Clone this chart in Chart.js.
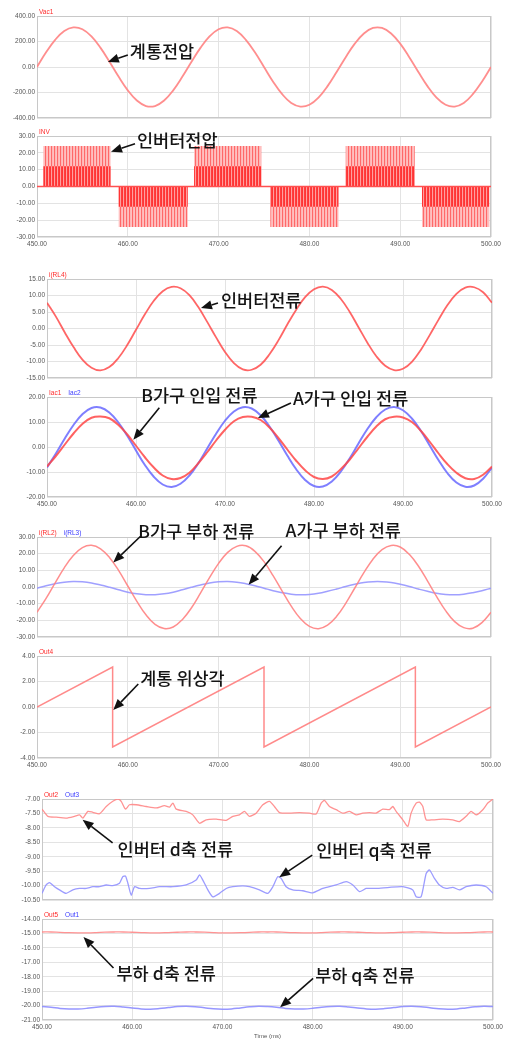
<!DOCTYPE html>
<html>
<head>
<meta charset="utf-8">
<script src="https://cdn.jsdelivr.net/npm/chart.js@4/dist/chart.umd.min.js"></script>
<style>
  html, body { margin: 0; padding: 0; background: #fff; }
  #page { position: relative; width: 507px; height: 1040px; overflow: hidden; }
  .panel { position: absolute; left: 0; width: 507px; }
</style>
</head>
<body>
<div id="page"></div>
<script>
// ---- sample times (ms) for the 1 ms traces ----
const timeMs = [450,451,452,453,454,455,456,457,458,459,460,461,462,463,464,465,466,467,468,469,470,
  471,472,473,474,475,476,477,478,479,480,481,482,483,484,485,486,487,488,489,490,
  491,492,493,494,495,496,497,498,499,500];

// grid voltage Vac1 [V]
const vac1 = [0,115,213,282,310,296,240,150,39,-77,-183,-263,-306,-306,-263,-183,-77,39,150,240,296,310,282,213,115,0,
  -115,-213,-282,-310,-296,-240,-150,-39,77,183,263,306,306,263,183,77,-39,-150,-240,-296,-310,-282,-213,-115,0];

// inverter output voltage INV: switching blocks [ms] and levels [V]
const invOn    = [450.7, 459.0, 467.3, 475.7, 484.0, 492.4];
const invOff   = [458.1, 466.6, 474.7, 483.2, 491.6, 499.8];
const invOuter = [24, -24, 24, -24, 24, -24];
const invInner = [12, -12, 12, -12, 12, -12];

// inverter current i(RL4) [A]
const irl4 = [7.8,3.6,-1.2,-5.7,-9.5,-11.9,-12.7,-11.7,-9.0,-5.1,-0.4,4.3,8.4,11.3,12.6,12.2,10.1,6.5,2.0,-2.7,-7.1,
  -10.5,-12.4,-12.5,-11.0,-7.8,-3.6,1.2,5.7,9.5,11.9,12.7,11.7,9.0,5.1,0.4,-4.3,-8.4,-11.3,-12.6,-12.2,
  -10.1,-6.5,-2.0,2.7,7.1,10.5,12.4,12.5,11.0,7.8];

// house feed-in currents Iac1 / Iac2 [A]
const iac1 = [-7.8,-3.6,1.0,5.5,9.3,11.7,12.2,11.5,8.9,5.1,0.5,-4.1,-8.2,-11.4,-12.8,-12.4,-10.3,-6.5,-2.1,2.6,6.9,
  10.3,12.0,12.1,10.8,7.8,3.6,-1.0,-5.5,-9.3,-12.0,-12.8,-11.8,-8.9,-5.1,-0.5,4.1,8.2,11.1,12.1,11.8,
  10.0,6.5,2.1,-2.6,-6.9,-10.3,-12.5,-12.8,-11.1,-7.8];
const iac2 = [-8.2,-2.6,3.4,8.9,13.2,15.6,15.8,13.8,9.9,4.6,-1.4,-7.2,-11.9,-15.0,-16.0,-14.7,-11.4,-6.5,-0.6,5.3,10.5,
  14.2,15.9,15.4,12.7,8.2,2.6,-3.4,-8.9,-13.2,-15.6,-15.8,-13.8,-9.9,-4.6,1.4,7.2,11.9,15.0,16.0,14.7,
  11.4,6.5,0.6,-5.3,-10.5,-14.2,-15.9,-15.4,-12.7,-8.2];

// house load currents i(RL2) / i(RL3) [A]
const irl2 = [-15.2,-6.8,2.5,11.5,18.9,23.6,25.0,22.9,17.6,9.8,0.6,-8.6,-16.7,-22.4,-24.9,-24.0,-19.6,-12.6,-3.7,5.6,14.2,
  20.8,24.4,24.7,21.4,15.2,6.8,-2.5,-11.5,-18.9,-23.6,-25.0,-22.9,-17.6,-9.8,-0.6,8.6,16.7,22.4,24.9,24.0,
  19.6,12.6,3.7,-5.6,-14.2,-20.8,-24.4,-24.7,-21.4,-15.2];
const irl3 = [-0.7,0.8,2.0,2.9,3.3,3.1,2.4,1.2,-0.2,-1.7,-3.1,-4.1,-4.6,-4.6,-4.1,-3.1,-1.7,-0.2,1.2,2.4,3.1,
  3.3,2.9,2.0,0.8,-0.7,-2.2,-3.4,-4.3,-4.7,-4.5,-3.8,-2.6,-1.2,0.3,1.6,2.7,3.2,3.2,2.7,1.6,
  0.3,-1.2,-2.6,-3.8,-4.5,-4.7,-4.3,-3.4,-2.2,-0.7];

// grid phase angle Out4 [rad]
const out4T = [450, 458.33, 458.33, 475.0, 475.0, 491.67, 491.67, 500];
const out4V = [0, 3.14, -3.14, 3.14, -3.14, 3.14, -3.14, 0];

// inverter d-axis current Out2
const out2T = [450.0,450.65,451.57,452.68,453.60,454.16,454.53,455.08,455.64,456.38,457.12,457.85,458.41,458.78,459.26,
  459.70,460.44,461.55,462.66,463.58,464.14,464.51,464.88,465.98,466.72,467.46,468.20,469.31,470.42,471.16,471.89,
  472.45,473.00,473.74,474.48,475.22,475.77,476.33,477.43,478.54,479.65,480.39,480.95,481.31,481.87,482.61,483.35,
  484.09,484.83,485.56,486.30,487.04,487.78,488.52,488.89,489.26,490.00,490.55,490.92,491.48,491.85,492.22,492.59,
  493.33,494.43,495.54,496.28,497.02,497.57,498.13,498.87,499.42,500.0];
const out2V = [-7.35,-7.60,-7.63,-7.66,-7.60,-7.55,-7.66,-7.43,-7.46,-7.51,-7.26,-7.08,-7.00,-7.08,-7.35,
  -7.20,-7.20,-7.26,-7.31,-7.23,-7.28,-7.14,-7.35,-7.43,-7.55,-7.84,-7.72,-7.70,-7.74,-7.60,-7.55,
  -7.43,-7.60,-7.49,-7.20,-7.08,-7.26,-7.47,-7.49,-7.47,-7.49,-7.52,-7.14,-7.05,-7.26,-7.37,-7.49,
  -7.43,-7.55,-7.49,-7.47,-7.49,-7.35,-7.37,-7.26,-7.43,-7.72,-7.95,-7.49,-7.14,-7.11,-7.26,-7.72,
  -7.72,-7.70,-7.72,-7.78,-7.60,-7.43,-7.55,-7.37,-7.14,-7.00];

// inverter q-axis current Out3
const out3T = [450.0,450.46,450.83,451.39,451.94,452.68,453.42,454.16,454.90,455.64,456.38,457.12,457.85,458.59,458.96,
  459.26,459.52,459.89,460.26,460.81,461.92,463.03,464.51,465.98,467.09,467.46,467.83,468.39,468.94,469.68,470.42,
  471.16,472.27,473.0,474.11,475.03,475.59,476.14,476.51,477.07,477.80,478.91,480.02,481.13,482.61,483.72,484.46,
  485.20,485.93,487.04,488.52,490.00,491.11,491.48,492.03,492.59,492.96,493.51,494.06,494.80,495.54,496.28,497.02,
  498.13,499.24,500.0];
const out3V = [-10.27,-9.98,-9.90,-10.04,-10.15,-10.27,-10.15,-10.10,-10.10,-10.04,-10.04,-9.98,-10.00,-9.92,-9.69,
  -9.67,-9.92,-10.33,-10.04,-10.10,-10.10,-10.04,-10.04,-9.98,-9.81,-9.63,-9.81,-10.15,-10.39,-10.27,-10.10,
  -10.04,-10.01,-10.04,-10.15,-10.27,-10.04,-9.69,-9.75,-10.04,-10.15,-10.18,-10.25,-10.10,-9.98,-9.86,-9.98,
  -10.21,-10.10,-10.10,-10.06,-10.04,-10.15,-10.39,-10.39,-9.58,-9.46,-9.75,-9.98,-10.10,-10.06,-10.15,-10.04,
  -9.98,-10.04,-10.27];

// load d / q axis currents Out5 / Out1
const out5 = [-14.90,-14.90,-14.93,-14.95,-14.96,-14.96,-14.94,-14.91,-14.90,-14.90,-14.92,-14.94,-14.96,-14.96,-14.94,
  -14.92,-14.90,-14.90,-14.91,-14.94,-14.96,-14.96,-14.95,-14.93,-14.90,-14.90,-14.90,-14.93,-14.95,-14.96,-14.96,
  -14.94,-14.91,-14.90,-14.90,-14.92,-14.94,-14.96,-14.96,-14.94,-14.92,-14.90,-14.90,-14.91,-14.94,-14.96,-14.96,
  -14.95,-14.93,-14.90,-14.90];
const out1 = [-20.07,-20.12,-20.20,-20.24,-20.24,-20.19,-20.11,-20.06,-20.05,-20.10,-20.17,-20.23,-20.25,-20.21,-20.14,
  -20.07,-20.05,-20.08,-20.15,-20.22,-20.25,-20.23,-20.16,-20.09,-20.05,-20.07,-20.12,-20.20,-20.24,-20.24,-20.19,
  -20.11,-20.06,-20.05,-20.10,-20.17,-20.23,-20.25,-20.21,-20.14,-20.07,-20.05,-20.08,-20.15,-20.22,-20.25,-20.23,
  -20.16,-20.09,-20.05,-20.07];

// ---- helpers ----
const pts = (ts, vs) => ts.map((t, i) => ({ x: t, y: vs[i] }));
function pulseTrain(levels) {
  const p = [{ x: 450, y: 0 }];
  invOn.forEach((on, i) => {
    p.push({ x: on, y: 0 }, { x: on, y: levels[i] }, { x: invOff[i], y: levels[i] }, { x: invOff[i], y: 0 });
  });
  p.push({ x: 500, y: 0 });
  return p;
}
function stripes(colors) {
  const c = document.createElement('canvas');
  c.width = colors.length; c.height = 1;
  const g = c.getContext('2d');
  colors.forEach((col, i) => { g.fillStyle = col; g.fillRect(i, 0, 1, 1); });
  return g.createPattern(c, 'repeat');
}
const pwmLight = stripes(['rgb(255,105,105)', 'rgb(255,182,182)', 'rgb(255,192,192)']);
const pwmDark  = stripes(['rgb(255,160,160)', 'rgb(255,62,62)', 'rgb(255,52,52)']);

const RED = '#ff2a2a', BLUE = '#3a3aff';
const GRID = '#e3e3e3', FRAME = '#c8c8c8', TICK = '#555';
const SMALL = '"Liberation Sans", Arial, sans-serif';

function line(data, color, width, tension) {
  return { data, borderColor: color, borderWidth: width, tension: tension, pointRadius: 0, fill: false };
}

// ---- panels ----
const panels = [
  { top: 16, bottom: 118, left: 37, right: 491, min: -400, max: 400, step: 200, xLabels: false,
    names: [['Vac1', RED]],
    datasets: [line(pts(timeMs, vac1), 'rgba(255,130,130,0.9)', 1.8, 0.4)],
    notes: [{ text: '계통전압', t: 457.8, v: 40, tx: 22, ty: -11, ax: 20, ay: -7 }] },
  { top: 136, bottom: 237, left: 37, right: 491, min: -30, max: 30, step: 10, xLabels: true,
    names: [['INV', RED]],
    datasets: [
      line([{ x: 450, y: 0 }, { x: 500, y: 0 }], 'rgb(255,80,80)', 1.3, 0),
      { data: pulseTrain(invInner), borderWidth: 0, borderColor: 'rgba(0,0,0,0)', backgroundColor: pwmDark, fill: 'origin', pointRadius: 0, tension: 0 },
      { data: pulseTrain(invOuter), borderWidth: 0, borderColor: 'rgba(0,0,0,0)', backgroundColor: pwmLight, fill: 'origin', pointRadius: 0, tension: 0 }
    ],
    notes: [{ text: '인버터전압', t: 458.15, v: 20.7, tx: 26, ty: -11, ax: 24, ay: -8 }] },
  { top: 279, bottom: 378, left: 47, right: 492, min: -15, max: 15, step: 5, xLabels: false,
    names: [['i(RL4)', RED]],
    datasets: [line(pts(timeMs, irl4), 'rgba(255,75,75,0.85)', 1.8, 0.4)],
    notes: [{ text: '인버터전류', t: 467.3, v: 6.2, tx: 20, ty: -8, ax: 17, ay: -5 }] },
  { top: 397, bottom: 497, left: 47, right: 492, min: -20, max: 20, step: 10, xLabels: true,
    names: [['Iac1', RED], ['Iac2', BLUE]],
    datasets: [
      line(pts(timeMs, iac1), 'rgba(255,70,70,0.85)', 2, 0.4),
      line(pts(timeMs, iac2), 'rgba(105,105,255,0.85)', 2, 0.4)
    ],
    notes: [
      { text: 'B가구 인입 전류', t: 459.7, v: 2.9, tx: 8, ty: -44, ax: 26, ay: -32 },
      { text: 'A가구 인입 전류', t: 473.7, v: 11.6, tx: 35, ty: -20, ax: 33, ay: -15 }
    ] },
  { top: 537, bottom: 637, left: 37, right: 491, min: -30, max: 30, step: 10, xLabels: false,
    names: [['i(RL2)', RED], ['i(RL3)', BLUE]],
    datasets: [
      line(pts(timeMs, irl2), 'rgba(255,130,130,0.9)', 1.5, 0.4),
      line(pts(timeMs, irl3), 'rgba(150,150,255,0.9)', 1.5, 0.4)
    ],
    notes: [
      { text: 'B가구 부하 전류', t: 458.4, v: 14.7, tx: 25, ty: -31, ax: 27, ay: -26 },
      { text: 'A가구 부하 전류', t: 473.3, v: 1.3, tx: 37, ty: -54, ax: 33, ay: -39 }
    ] },
  { top: 656, bottom: 758, left: 37, right: 491, min: -4, max: 4, step: 2, xLabels: true,
    names: [['Out4', RED]],
    datasets: [line(pts(out4T, out4V), 'rgba(255,125,125,0.9)', 1.5, 0)],
    notes: [{ text: '계통 위상각', t: 458.4, v: -0.24, tx: 27, ty: -32, ax: 25, ay: -26 }] },
  { top: 799, bottom: 900, left: 42, right: 493, min: -10.5, max: -7, step: 0.5, xLabels: false,
    names: [['Out2', RED], ['Out3', BLUE]],
    datasets: [
      line(pts(out2T, out2V), 'rgba(255,135,135,0.9)', 1.3, 0.2),
      line(pts(out3T, out3V), 'rgba(145,145,255,0.9)', 1.3, 0.2)
    ],
    notes: [
      { text: '인버터 d축 전류', t: 454.5, v: -7.72, tx: 35, ty: 30, ax: 30, ay: 23 },
      { text: '인버터 q축 전류', t: 476.3, v: -9.71, tx: 37, ty: -27, ax: 33, ay: -22 }
    ] },
  { top: 919, bottom: 1020, left: 42, right: 493, min: -21, max: -14, step: 1, xLabels: true, xTitle: 'Time (ms)',
    names: [['Out5', RED], ['Out1', BLUE]],
    datasets: [
      line(pts(timeMs, out5), 'rgba(255,135,135,0.9)', 1.3, 0.4),
      line(pts(timeMs, out1), 'rgba(140,140,255,0.9)', 1.5, 0.4)
    ],
    notes: [
      { text: '부하 d축 전류', t: 454.6, v: -15.25, tx: 33, ty: 36, ax: 30, ay: 31 },
      { text: '부하 q축 전류', t: 476.4, v: -20.12, tx: 35, ty: -32, ax: 33, ay: -29 }
    ] }
];

function decor(p) {
  return {
    id: 'panelDecor',
    beforeDatasetsDraw(chart) {
      const { ctx, chartArea: a } = chart;
      ctx.save();
      ctx.strokeStyle = FRAME; ctx.lineWidth = 1;
      ctx.strokeRect(Math.round(a.left) + 0.5, Math.round(a.top) + 0.5, Math.round(a.width) - 1, Math.round(a.height) - 1);
      ctx.restore();
    },
    afterDraw(chart) {
      const { ctx, chartArea: a } = chart;
      ctx.save();
      // series names above the plot
      ctx.font = '6.5px ' + SMALL;
      ctx.textBaseline = 'middle'; ctx.textAlign = 'left';
      let nx = a.left + 2;
      p.names.forEach(([txt, col]) => {
        ctx.fillStyle = col;
        ctx.fillText(txt, nx, a.top - 4);
        nx += ctx.measureText(txt).width + 7;
      });
      // callouts with arrows
      const xs = chart.scales.x, ys = chart.scales.y;
      p.notes.forEach(n => {
        const px = xs.getPixelForValue(n.t), py = ys.getPixelForValue(n.v);
        const sx = px + n.ax, sy = py + n.ay;
        const ang = Math.atan2(py - sy, px - sx);
        const L = 11, W = 4.5;
        const bx = px - L * Math.cos(ang), by = py - L * Math.sin(ang);
        ctx.strokeStyle = '#111'; ctx.fillStyle = '#111'; ctx.lineWidth = 1.6;
        ctx.beginPath(); ctx.moveTo(sx, sy); ctx.lineTo(bx, by); ctx.stroke();
        ctx.beginPath();
        ctx.moveTo(px, py);
        ctx.lineTo(bx + W * Math.sin(ang), by - W * Math.cos(ang));
        ctx.lineTo(bx - W * Math.sin(ang), by + W * Math.cos(ang));
        ctx.closePath(); ctx.fill();
        ctx.font = '500 17.5px "Noto Sans CJK KR", sans-serif';
        ctx.fillStyle = '#141414';
        ctx.fillText(n.text, px + n.tx, py + n.ty);
      });
      ctx.restore();
    }
  };
}

const page = document.getElementById('page');
panels.forEach(p => {
  const cTop = Math.max(0, p.top - 24);
  const cBot = Math.min(1040, p.bottom + 20);
  const div = document.createElement('div');
  div.className = 'panel';
  div.style.top = cTop + 'px';
  div.style.height = (cBot - cTop) + 'px';
  const cv = document.createElement('canvas');
  div.appendChild(cv);
  page.appendChild(div);
  const xH = p.xLabels ? (p.xTitle ? 20 : 14) : 0;
  new Chart(cv, {
    type: 'line',
    data: { datasets: p.datasets },
    options: {
      responsive: true, maintainAspectRatio: false, animation: false, devicePixelRatio: 1,
      layout: { padding: { left: 0, top: p.top - cTop, right: 507 - p.right, bottom: cBot - p.bottom - xH } },
      plugins: { legend: { display: false }, tooltip: { enabled: false } },
      scales: {
        x: {
          type: 'linear', min: 450, max: 500,
          ticks: { display: p.xLabels, stepSize: 10, autoSkip: false, maxRotation: 0, padding: 3,
                   color: TICK, font: { family: SMALL, size: 6.5 }, callback: v => v.toFixed(2) },
          grid: { color: GRID, drawTicks: false },
          border: { display: false },
          title: { display: !!p.xTitle, text: p.xTitle || '', color: TICK, font: { family: SMALL, size: 6 }, padding: { top: 0, bottom: 0 } },
          afterFit: s => { s.height = xH; }
        },
        y: {
          min: p.min, max: p.max,
          ticks: { stepSize: p.step, padding: 2, color: TICK, font: { family: SMALL, size: 6.5 }, callback: v => v.toFixed(2) },
          grid: { color: GRID, drawTicks: false },
          border: { display: false },
          afterFit: s => { s.width = p.left; }
        }
      }
    },
    plugins: [decor(p)]
  });
});
</script>
</body>
</html>
